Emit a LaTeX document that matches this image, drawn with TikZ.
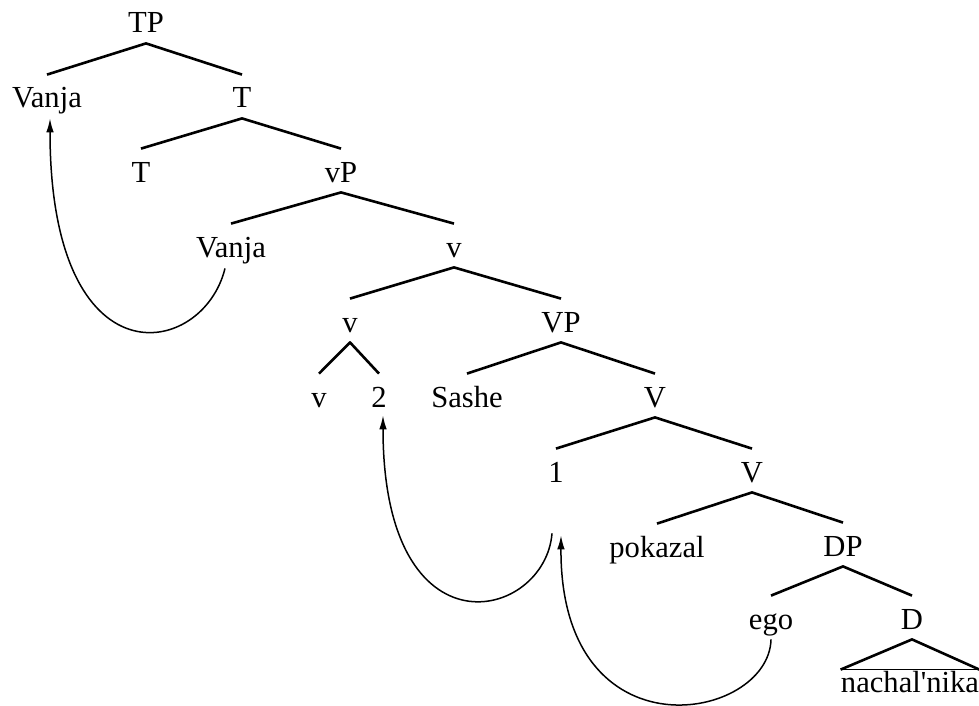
\documentclass[tikz,border=0pt]{standalone}
\usepackage{fontspec}
\setmainfont{Liberation Serif}
\usetikzlibrary{calc, arrows.meta}

\tikzset{
  cat/.style={anchor=base, inner sep=0pt, text height=16.5pt, text depth=5pt,
    font=\fontsize{15.3pt}{18pt}\selectfont},
  leaf/.style={anchor=base, inner sep=0pt, text height=11pt, text depth=0pt,
    font=\fontsize{15.3pt}{18pt}\selectfont},
  branch/.style={line width=1.3pt, line join=round},
  move/.style={line width=0.75pt, -{Latex[length=7pt,width=3.8pt]}}
}

\begin{document}
\begin{tikzpicture}[x=0.5pt, y=-0.5pt]
  \useasboundingbox (0,0) rectangle (979,706);

  % Tree nodes
  \node[cat] (TP) at (146,33) {TP};
  \node[cat] (vanjaA) at (47,108) {Vanja};
  \node[cat] (Tbar) at (242,108) {T};
  \node[cat] (T) at (141,182) {T};
  \node[cat] (vP) at (341,182) {vP};
  \node[cat] (vanjaB) at (231,257) {Vanja};
  \node[cat] (vbar) at (454,257) {v};
  \node[cat] (vlow) at (350,332) {v};
  \node[cat] (VP) at (561,332) {VP};
  \node[cat] (vhead) at (319,407) {v};
  \node[cat] (two) at (379,407) {2};
  \node[cat] (sashe) at (467,407) {Sashe};
  \node[cat] (Vbar) at (655,407) {V};
  \node[cat] (one) at (556,482) {1};
  \node[cat] (Vbarb) at (752,482) {V};
  \node[cat] (pokazal) at (657,557) {pokazal};
  \node[cat] (DP) at (843,556) {DP};
  \node[cat] (ego) at (771,629) {ego};
  \node[cat] (D) at (912,629) {D};
  \node[leaf] (nachal) at (910,692) {nachal\textquotesingle nika};

  % Branches
  \draw[branch] (vanjaA.north) -- (TP.south) -- (Tbar.north);
  \draw[branch] (T.north) -- (Tbar.south) -- (vP.north);
  \draw[branch] (vanjaB.north) -- (vP.south) -- (vbar.north);
  \draw[branch] (vlow.north) -- (vbar.south) -- (VP.north);
  \draw[branch] (vhead.north) -- (vlow.south) -- (two.north);
  \draw[branch] (sashe.north) -- (VP.south) -- (Vbar.north);
  \draw[branch] (one.north) -- (Vbar.south) -- (Vbarb.north);
  \draw[branch] (pokazal.north) -- (Vbarb.south) -- (DP.north);
  \draw[branch] (ego.north) -- (DP.south) -- (D.north);
  \draw[branch] (nachal.north west) -- (D.south) -- (nachal.north east);
  \draw[line width=0.8pt] (nachal.north west) -- (nachal.north east);

  % Movement arrows
  \coordinate (oneA) at ($(one.south)+(-4,41)$);
  \coordinate (oneB) at ($(one.south)+(5,43)$);
  \draw[move] ($(vanjaB.south)+(-6,1)$) .. controls +(-22,90) and +(0,268) .. ($(vanjaA.south)+(3,0)$);
  \draw[move] (oneA) .. controls +(-7,87) and +(0,245) .. ($(two.south)+(4,-2)$);
  \draw[move] (ego.south) .. controls +(-2,82) and +(-1,225) .. (oneB);
\end{tikzpicture}
\end{document}
